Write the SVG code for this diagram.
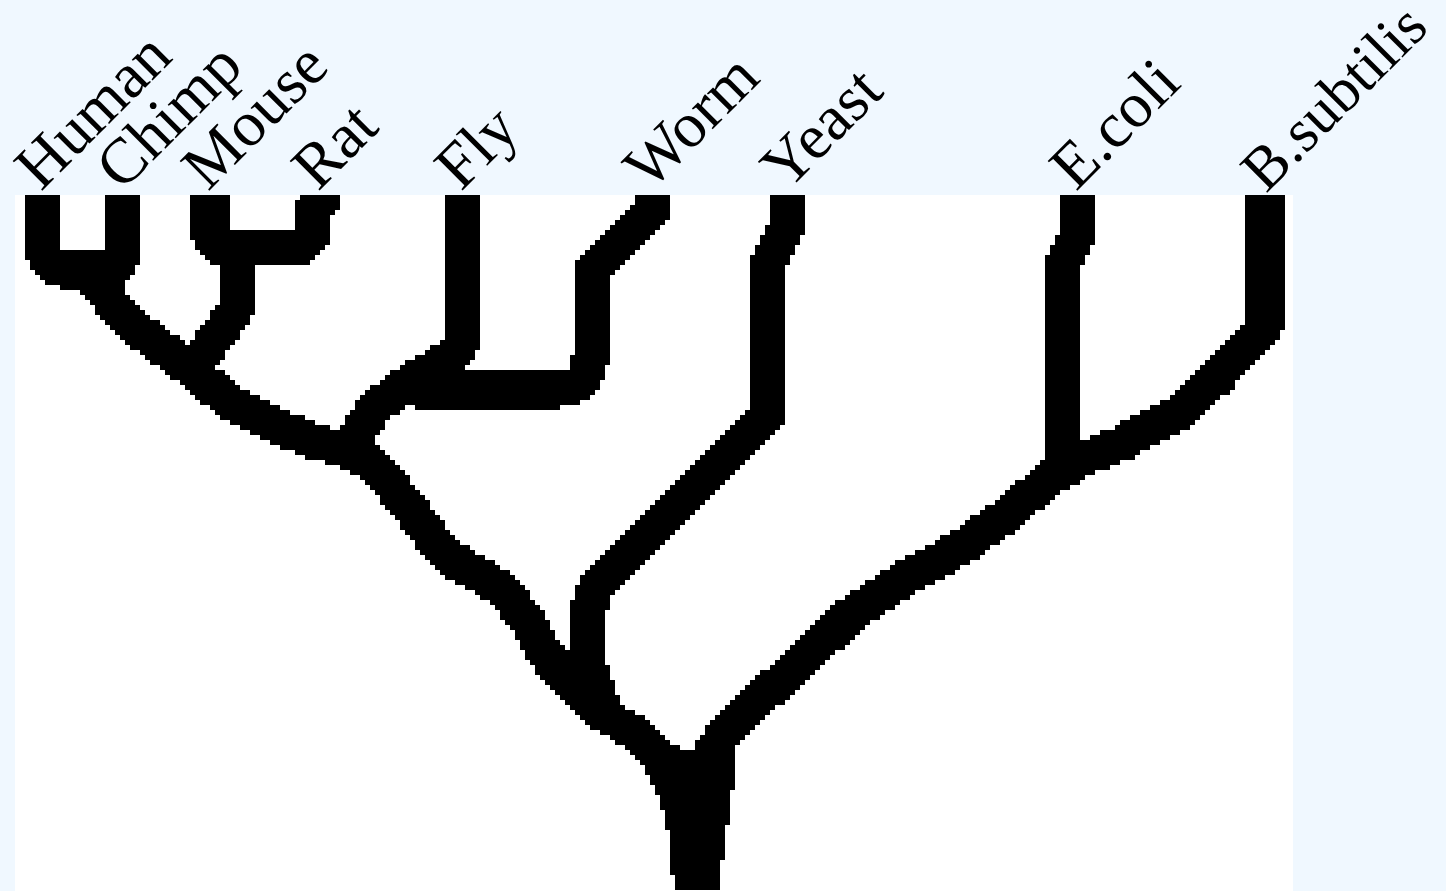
<svg xmlns="http://www.w3.org/2000/svg" width="1446" height="891" viewBox="0 0 1446 891">
  <defs>
    <style>
      .branch { fill: none; stroke: #000; stroke-width: 36; stroke-linecap: round; stroke-linejoin: round; }
      .trunk { fill: #000; stroke: none; }
      .label { font-size: 64px; fill: #000; }
    </style>
    <clipPath id="canvasClip">
      <rect x="15" y="195" width="1278" height="696"/>
    </clipPath>
    <!-- coarse 5px block sampling for the bitmap-style tree -->
    <filter id="blocky" filterUnits="userSpaceOnUse" x="15" y="195" width="1278" height="696">
      <feFlood flood-color="#000" x="17" y="197" width="1" height="1"/>
      <feOffset dx="0" dy="0" x="15" y="195" width="5" height="5"/>
      <feTile x="15" y="195" width="1278" height="696" result="grid"/>
      <feComposite in="SourceGraphic" in2="grid" operator="in"/>
      <feMorphology operator="dilate" radius="2"/>
    </filter>
  </defs>

  <!-- page background and drawing canvas -->
  <rect x="0" y="0" width="1446" height="891" fill="#f0f8ff"/>
  <rect x="15" y="195" width="1278" height="696" fill="#ffffff"/>

  <!-- tree branches -->
  <g clip-path="url(#canvasClip)">
  <g id="connectors" filter="url(#blocky)" shape-rendering="crispEdges">
    <!-- Human + Chimp -->
    <path class="branch" d="M43,180 V244 Q43,270 68,270 H100 Q124,270 124,244 V180"/>
    <path class="branch" d="M86,270 L106,295 L127,321 L160,346 L195,372 L230,403 L280,428 L320,443 L352,452"/>
    <!-- Mouse + Rat -->
    <path class="branch" d="M210,180 V232 Q210,248 228,248 H292 Q312,248 312,228 V212 L322,200 V180"/>
    <path class="branch" d="M236,248 V310 L213,340 L198,365"/>
    <!-- Fly + Worm -->
    <path class="branch" d="M463,180 V335 Q463,352 442,362 L411,381 L376,407 L358,432 L352,452"/>
    <path class="branch" d="M651,180 V212 L591,272 V350 Q591,390 551,390 H418"/>
    <!-- animals down to the yeast fork -->
    <path class="branch" d="M352,452 L372,464 L392,486 L420,522 L440,548 L458,563 L478,573 L503,590 L530,625 L546,655 L572,685 L600,712 L630,730 L660,756 L692,776"/>
    <!-- Yeast -->
    <path class="branch" d="M788,180 V226 L768,262 V414 L597,585 L588,610 V665 L600,700"/>
    <!-- E.coli + B.subtilis -->
    <path class="branch" d="M1078,180 V236 L1062,266 V470"/>
    <path class="branch" d="M1265,180 V325 L1218,377 L1180,412 L1160,422 L1120,444 L1085,458 L1060,472"/>
    <!-- bacteria down to the root -->
    <path class="branch" d="M1062,470 L1040,487 L1000,520 L960,548 L900,581 L850,615 L800,664 L750,707 L720,740 L697,775"/>
    <!-- root trunk -->
    <polygon class="trunk" points="640,760 690,755 736,745 730,818 725,833 720,891 674,891 669,838 664,813 659,797 650,782"/>
  </g>
  </g>

  <!-- leaf labels -->
  <g font-family="Liberation Serif, Times New Roman, Times, serif">
    <g id="node-human"><text class="label" transform="translate(41,192) rotate(-45)">Human</text></g>
    <g id="node-chimp"><text class="label" transform="translate(122,192) rotate(-45)">Chimp</text></g>
    <g id="node-mouse"><text class="label" transform="translate(208,192) rotate(-45)">Mouse</text></g>
    <g id="node-rat"><text class="label" transform="translate(318,192) rotate(-45)">Rat</text></g>
    <g id="node-fly"><text class="label" transform="translate(461,192) rotate(-45)">Fly</text></g>
    <g id="node-worm"><text class="label" transform="translate(650,192) rotate(-45)">Worm</text></g>
    <g id="node-yeast"><text class="label" transform="translate(787,192) rotate(-45)">Yeast</text></g>
    <g id="node-ecoli"><text class="label" transform="translate(1076,192) rotate(-45)">E.coli</text></g>
    <g id="node-bsubtilis"><text class="label" font-size="61" style="font-size:61px" transform="translate(1266,194) rotate(-45)">B.subtilis</text></g>
  </g>
</svg>
